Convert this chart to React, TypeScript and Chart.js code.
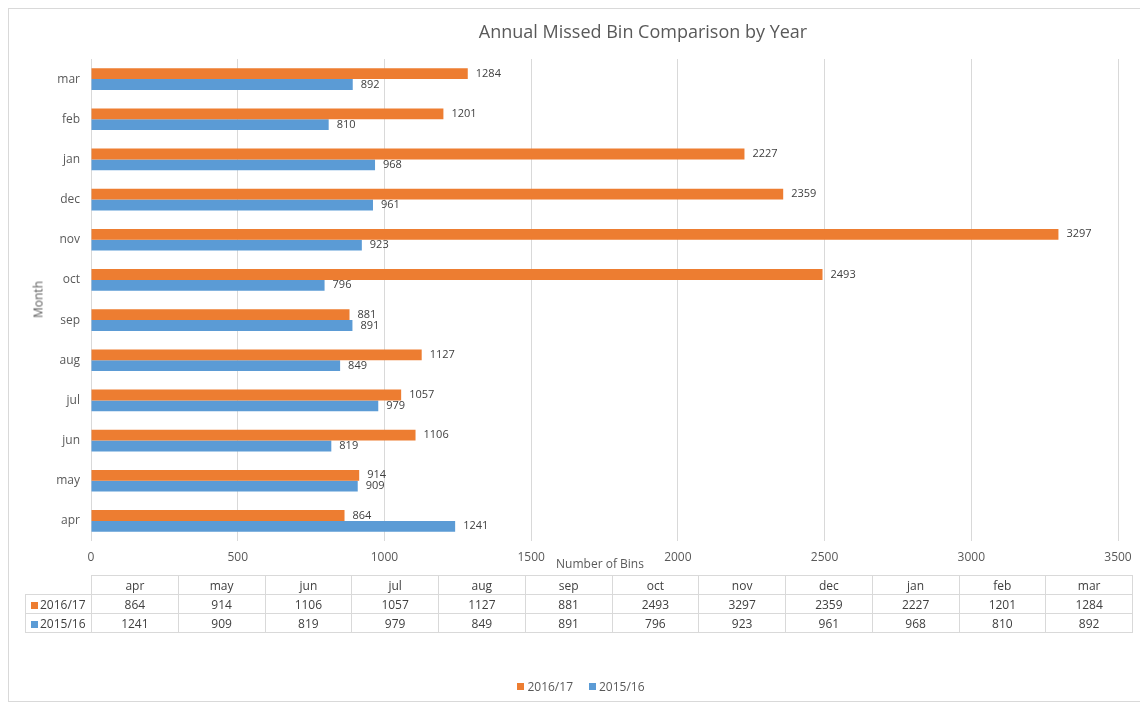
import React, { useEffect, useRef } from "react";
import { Chart, registerables } from "chart.js";

Chart.register(...registerables);

const months = ["apr", "may", "jun", "jul", "aug", "sep", "oct", "nov", "dec", "jan", "feb", "mar"];
const series1617 = [864, 914, 1106, 1057, 1127, 881, 2493, 3297, 2359, 2227, 1201, 1284];
const series1516 = [1241, 909, 819, 979, 849, 891, 796, 923, 961, 968, 810, 892];
const seriesNames = ["2016/17", "2015/16"];
const seriesColors = ["#ED7D31", "#5B9BD5"];
const xMin = 0;
const xMax = 3500;
const xStep = 500;

const FONT = "'Open Sans', 'DejaVu Sans', sans-serif";
const TEXT = "#595959";
const DARK = "#404040";
const GRID = "#d9d9d9";

const valueLabels = {
  id: "valueLabels",
  afterDatasetsDraw(chart: any) {
    const ctx = chart.ctx;
    ctx.save();
    ctx.font = `11px ${FONT}`;
    ctx.fillStyle = DARK;
    ctx.textAlign = "left";
    ctx.textBaseline = "middle";
    chart.data.datasets.forEach((ds: any, i: number) => {
      const meta = chart.getDatasetMeta(i);
      meta.data.forEach((bar: any, j: number) => {
        ctx.fillText(String(ds.data[j]), bar.x + 8, bar.y);
      });
    });
    ctx.restore();
  },
};

export default function App() {
  const ref = useRef<HTMLCanvasElement>(null);

  useEffect(() => {
    if (!ref.current) return;
    const chart = new Chart(ref.current, {
      type: "bar",
      data: {
        labels: months,
        datasets: [
          {
            label: seriesNames[0],
            data: series1617,
            backgroundColor: seriesColors[0],
            barPercentage: 1,
            categoryPercentage: 0.54,
          },
          {
            label: seriesNames[1],
            data: series1516,
            backgroundColor: seriesColors[1],
            barPercentage: 1,
            categoryPercentage: 0.54,
          },
        ],
      },
      options: {
        indexAxis: "y",
        animation: false,
        responsive: false,
        maintainAspectRatio: false,
        layout: { padding: { top: 50, left: 0, right: 27, bottom: 130 } },
        plugins: {
          legend: { display: false },
          title: { display: false },
          tooltip: { enabled: false },
        },
        scales: {
          x: {
            min: xMin,
            max: xMax,
            ticks: {
              stepSize: xStep,
              color: TEXT,
              font: { family: FONT, size: 12 },
              padding: 9,
              callback: (v: any) => String(v),
            },
            grid: { color: GRID, drawTicks: false },
            border: { display: false },
            afterFit: (s: any) => {
              s.height = 30;
            },
          },
          y: {
            reverse: true,
            ticks: {
              color: TEXT,
              font: { family: FONT, size: 12 },
              padding: 11,
            },
            grid: { display: false, drawTicks: false },
            border: { display: false },
            afterFit: (s: any) => {
              s.width = 82;
            },
          },
        },
      },
      plugins: [valueLabels],
    });
    return () => chart.destroy();
  }, []);

  const cellStyle: React.CSSProperties = {
    border: `1px solid ${GRID}`,
    textAlign: "center",
    padding: 0,
    height: 18,
    color: DARK,
  };

  const rows = [
    { name: seriesNames[0], color: seriesColors[0], values: series1617 },
    { name: seriesNames[1], color: seriesColors[1], values: series1516 },
  ];

  return (
    <div
      style={{
        position: "relative",
        width: 1136,
        height: 692,
        border: "1px solid #d9d9d9",
        fontFamily: FONT,
        background: "#fff",
      }}
    >
      <canvas ref={ref} width={1136} height={692} style={{ position: "absolute", left: 0, top: 0 }} />
      <div
        style={{
          position: "absolute",
          left: 0,
          width: 1268,
          top: 10,
          textAlign: "center",
          fontSize: 18,
          color: TEXT,
        }}
      >
        Annual Missed Bin Comparison by Year
      </div>
      <div
        style={{
          position: "absolute",
          left: 529,
          width: 124,
          top: 546,
          textAlign: "center",
          fontSize: 12,
          color: TEXT,
        }}
      >
        Number of Bins
      </div>
      <div
        style={{
          position: "absolute",
          left: 29 - 40,
          top: 291 - 9,
          width: 80,
          textAlign: "center",
          fontSize: 12,
          color: TEXT,
          transform: "rotate(-90deg)",
        }}
      >
        Month
      </div>
      <table
        style={{
          position: "absolute",
          left: 16,
          top: 566,
          borderCollapse: "collapse",
          tableLayout: "fixed",
          width: 1107,
          fontSize: 12,
          fontFamily: FONT,
        }}
      >
        <colgroup>
          <col style={{ width: 66 }} />
          {months.map((m) => (
            <col key={m} style={{ width: 86.75 }} />
          ))}
        </colgroup>
        <tbody>
          <tr>
            <td style={{ ...cellStyle, border: "none" }}></td>
            {months.map((m) => (
              <td key={m} style={cellStyle}>
                {m}
              </td>
            ))}
          </tr>
          {rows.map((r) => (
            <tr key={r.name}>
              <td style={{ ...cellStyle, textAlign: "left", paddingLeft: 5, whiteSpace: "nowrap" }}>
                <span
                  style={{
                    display: "inline-block",
                    width: 7,
                    height: 7,
                    background: r.color,
                    marginRight: 2,
                    verticalAlign: "middle",
                  }}
                />
                {r.name}
              </td>
              {r.values.map((v, i) => (
                <td key={i} style={cellStyle}>
                  {v}
                </td>
              ))}
            </tr>
          ))}
        </tbody>
      </table>
      <div
        style={{
          position: "absolute",
          left: 0,
          width: 1144,
          top: 669,
          display: "flex",
          justifyContent: "center",
          gap: 16,
          fontSize: 12,
          color: TEXT,
        }}
      >
        {rows.map((r) => (
          <div key={r.name} style={{ display: "flex", alignItems: "center" }}>
            <span style={{ display: "inline-block", width: 7, height: 7, background: r.color, marginRight: 3 }} />
            {r.name}
          </div>
        ))}
      </div>
    </div>
  );
}
